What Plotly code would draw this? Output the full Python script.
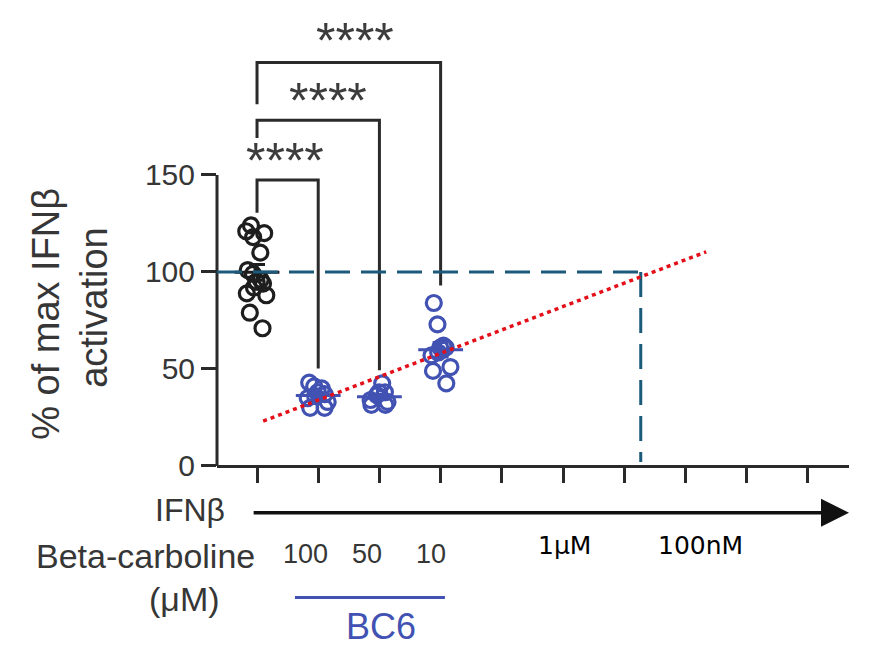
import numpy as np
import plotly.graph_objects as go

# ---------------- data ----------------
group_pos = [0, 1, 2, 3]
group_names = ["IFNβ", "BC6 100", "BC6 50", "BC6 10"]
ifn_only = [124, 120, 121, 118, 110, 101, 99, 95, 96, 94, 92, 89, 88, 79, 71]
bc6_100 = [43, 41, 40, 38, 37, 36, 35, 33, 30, 30]
bc6_50 = [42.6, 38, 38, 36.5, 34, 33, 31.5, 31.5]
bc6_10 = [84, 73, 62, 61, 61, 58.5, 57, 51, 49, 42.6]
all_ticks = list(range(10))
y_ticks = [0, 50, 100, 150]
dose_labels = ["100", "50", "10"]
ifn_doses = ["1μM", "100nM"]
# significance comparisons: (from, to, left leg bottom, top, right leg bottom, star y)
comparisons = [
    (0, 1, 130.5, 147.4, 50.3, 157),
    (0, 2, 169.0, 178.2, 49.3, 188),
    (0, 3, 186.4, 208.0, 93.0, 219),
]
stars = ["****", "****", "****"]
# reference guides
ref_level = 100
ref_x_end = 6.27
trend_x = [0.1, 7.34]
trend_y = [23.1, 110.4]

# ---------------- styling ----------------
BLACK = "#1e1e1e"
LINE = "#2a2a2a"
TEXT = "#363636"
BLUE = "#4152b3"
TEAL = "#1b5a7a"
RED = "#e3101a"
FONT = "Liberation Sans"

Y_MIN, Y_MAX = -92.8, 240.2
X_MIN, X_MAX = -0.654, 9.673

fig = go.Figure()

groups = [ifn_only, bc6_100, bc6_50, bc6_10]
colors = [BLACK, BLUE, BLUE, BLUE]
for pos, vals, col, name in zip(group_pos, groups, colors, group_names):
    fig.add_trace(go.Box(
        x=[pos] * len(vals), y=vals, name=name,
        boxpoints="all", jitter=0.75, pointpos=0, width=0.55,
        fillcolor="rgba(0,0,0,0)", line=dict(width=0, color="rgba(0,0,0,0)"),
        marker=dict(symbol="circle-open", size=15, color=col,
                    line=dict(width=3.2, color=col)),
        showlegend=False, hoverinfo="y",
    ))

# mean +/- SEM
means = [float(np.mean(v)) for v in groups]
sems = [float(np.std(v, ddof=1) / np.sqrt(len(v))) for v in groups]
for idxs, col in (([0], BLACK), ([1, 2, 3], BLUE)):
    fig.add_trace(go.Scatter(
        x=[group_pos[i] for i in idxs], y=[means[i] for i in idxs],
        mode="markers",
        marker=dict(symbol="line-ew", size=32, color=col,
                    line=dict(width=3, color=col)),
        error_y=dict(type="data", array=[sems[i] for i in idxs],
                     color=col, thickness=3, width=8),
        showlegend=False, hoverinfo="skip",
    ))

shapes = []
# y axis line only from 0 to 150
shapes.append(dict(type="line", xref="paper", yref="y", x0=0, x1=0,
                   y0=y_ticks[0], y1=y_ticks[-1],
                   line=dict(color=LINE, width=3)))
# significance brackets
for (a, b, lb, top, rb, sy) in comparisons:
    shapes.append(dict(type="path", xref="x", yref="y",
                       path=f"M {a},{lb} L {a},{top} L {b},{top} L {b},{rb}",
                       line=dict(color=LINE, width=3)))
# reference dashed lines
shapes.append(dict(type="line", xref="paper", yref="y", x0=0,
                   x1=(ref_x_end - X_MIN) / (X_MAX - X_MIN),
                   y0=ref_level, y1=ref_level,
                   line=dict(color=TEAL, width=3, dash="25px,11px")))
shapes.append(dict(type="line", xref="x", yref="y", x0=ref_x_end, x1=ref_x_end,
                   y0=ref_level, y1=2,
                   line=dict(color=TEAL, width=3, dash="25px,11px")))
# red dotted trend
shapes.append(dict(type="line", xref="x", yref="y", x0=trend_x[0], x1=trend_x[1],
                   y0=trend_y[0], y1=trend_y[1],
                   line=dict(color=RED, width=3.5, dash="4px,4px")))
# BC6 underline
shapes.append(dict(type="line", xref="x", yref="y", x0=0.62, x1=3.07,
                   y0=-67.8, y1=-67.8, line=dict(color=BLUE, width=3)))

annotations = []
for (a, b, lb, top, rb, sy), s, xc in zip(comparisons, stars, [0.46, 1.16, 1.6]):
    annotations.append(dict(x=xc, y=sy, xref="x", yref="y", text=s,
                            showarrow=False, font=dict(family=FONT, size=50, color="#3c3c3c"),
                            xanchor="center", yanchor="middle"))
# y axis title
annotations.append(dict(x=-0.2700, y=78.6, xref="paper", yref="y", text="% of max IFNβ",
                        textangle=-90, showarrow=False, xanchor="center", yanchor="middle",
                        font=dict(family=FONT, size=38, color=TEXT)))
annotations.append(dict(x=-0.1940, y=81.7, xref="paper", yref="y", text="activation",
                        textangle=-90, showarrow=False, xanchor="center", yanchor="middle",
                        font=dict(family=FONT, size=38, color=TEXT)))
# arrow
annotations.append(dict(x=X_MAX, y=-24.1, ax=-0.08, ay=-24.1, xref="x", yref="y",
                        axref="x", ayref="y", text="", showarrow=True,
                        arrowhead=2, arrowsize=1.6, arrowwidth=3.5, arrowcolor="#111111"))
# row labels
annotations.append(dict(x=0.0158, y=-22.6, xref="paper", yref="y", text="IFNβ",
                        xanchor="right", yanchor="middle", showarrow=False,
                        font=dict(family=FONT, size=32, color=TEXT)))
annotations.append(dict(x=0.0632, y=-46.2, xref="paper", yref="y", text="Beta-carboline",
                        xanchor="right", yanchor="middle", showarrow=False,
                        font=dict(family=FONT, size=34, color=TEXT)))
annotations.append(dict(x=-0.052, y=-68.5, xref="paper", yref="y", text="(μM)",
                        xanchor="center", yanchor="middle", showarrow=False,
                        font=dict(family=FONT, size=34, color=TEXT)))
for lab, xc in zip(dose_labels, [0.80, 1.80, 2.84]):
    annotations.append(dict(x=xc, y=-45.5, xref="x", yref="y", text=lab,
                            xanchor="center", yanchor="middle", showarrow=False,
                            font=dict(family=FONT, size=27, color=TEXT)))
annotations.append(dict(x=2.03, y=-82.7, xref="x", yref="y", text="BC6",
                        xanchor="center", yanchor="middle", showarrow=False,
                        font=dict(family=FONT, size=36, color=BLUE)))
for lab, xc in zip(ifn_doses, [5.02, 7.25]):
    annotations.append(dict(x=xc, y=-40.8, xref="x", yref="y", text=lab,
                            xanchor="center", yanchor="middle", showarrow=False,
                            font=dict(family="DejaVu Sans", size=25, color="#000000")))

fig.update_layout(
    width=888, height=646,
    margin=dict(l=217, r=39, t=0, b=0, autoexpand=False),
    paper_bgcolor="white", plot_bgcolor="white",
    boxmode="overlay",
    shapes=shapes, annotations=annotations,
    xaxis=dict(range=[X_MIN, X_MAX], tickvals=all_ticks, showticklabels=False,
               ticks="outside", ticklen=15, tickwidth=3, tickcolor=LINE,
               showline=True, linewidth=3, linecolor=LINE,
               showgrid=False, zeroline=False,
               anchor="free", position=(0 - Y_MIN) / (Y_MAX - Y_MIN)),
    yaxis=dict(range=[Y_MIN, Y_MAX], tickvals=y_ticks, ticks="outside",
               ticklen=15, tickwidth=3, tickcolor=LINE,
               tickfont=dict(family=FONT, size=30, color=TEXT),
               showline=False, showgrid=False, zeroline=False),
)

fig.write_html("out.html", config={"displayModeBar": False},
               post_script="document.body.style.margin='0';document.body.style.overflow='hidden';")
